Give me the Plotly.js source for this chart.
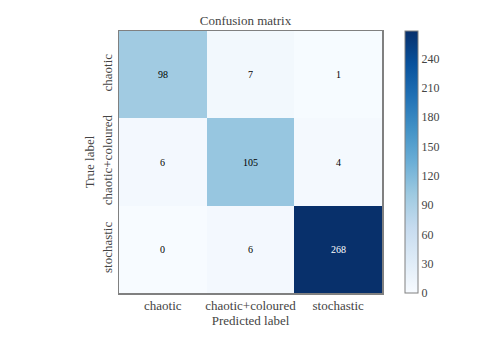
<!DOCTYPE html>
<html>
<head>
<meta charset="utf-8">
<script src="https://cdn.plot.ly/plotly-3.0.1.min.js"></script>
<style>body{margin:0;background:#fff;} #cm{width:491px;height:343px;}</style>
</head>
<body>
<div id="cm"></div>
<script>
const classes = ['chaotic', 'chaotic+coloured', 'stochastic'];
const counts = [
    [98, 7, 1],
    [6, 105, 4],
    [0, 6, 268]
];
const cbTicks = [0, 30, 60, 90, 120, 150, 180, 210, 240];

// matplotlib "Blues"
const blues = [
    [0.0, '#f7fbff'], [0.125, '#deebf7'], [0.25, '#c6dbef'], [0.375, '#9ecae1'],
    [0.5, '#6baed6'], [0.625, '#4292c6'], [0.75, '#2171b5'], [0.875, '#08519c'], [1.0, '#08306b']
];

const zmax = Math.max(...counts.flat());
const font = 'Liberation Serif, DejaVu Serif, serif';

var annotations = [];
for (let i = 0; i < classes.length; i++) {
    for (let j = 0; j < classes.length; j++) {
        annotations.push({
            x: classes[j], y: classes[i], text: String(counts[i][j]),
            showarrow: false,
            font: {family: font, size: 10, color: counts[i][j] > zmax / 2 ? '#ffffff' : '#000000'}
        });
    }
}

var trace = {
    type: 'heatmap',
    x: classes,
    y: classes,
    z: counts,
    zmin: 0,
    zmax: zmax,
    colorscale: blues,
    hoverinfo: 'skip',
    colorbar: {
        x: 1.087, xanchor: 'left', xpad: 0, ypad: 0,
        y: 0.5, yanchor: 'middle', len: 1, lenmode: 'fraction',
        thickness: 13, outlinecolor: '#808080', outlinewidth: 1,
        tickvals: cbTicks, ticks: '', ticklen: 0,
        tickfont: {family: font, size: 12, color: '#444'}
    }
};

var layout = {
    width: 491, height: 343,
    margin: {l: 119, r: 109, t: 31, b: 50},
    paper_bgcolor: '#fff', plot_bgcolor: '#fff',
    font: {family: font, color: '#444'},
    title: {text: 'Confusion matrix', font: {family: font, size: 13, color: '#444'}, x: 0.5, xanchor: 'center', y: 0.94, yanchor: 'middle'},
    xaxis: {
        title: {text: 'Predicted label', font: {size: 13}, standoff: 0},
        tickfont: {size: 13}, ticks: '', showgrid: false, zeroline: false,
        showline: true, mirror: true, linecolor: '#808080', linewidth: 1.5
    },
    yaxis: {
        title: {text: 'True label', font: {size: 13}, standoff: 2},
        tickfont: {size: 13}, tickangle: -90, ticks: '', showgrid: false, zeroline: false,
        autorange: 'reversed',
        showline: true, mirror: true, linecolor: '#808080', linewidth: 1.5
    },
    annotations: annotations
};

Plotly.newPlot('cm', [trace], layout, {displayModeBar: false, staticPlot: true});
</script>
</body>
</html>
